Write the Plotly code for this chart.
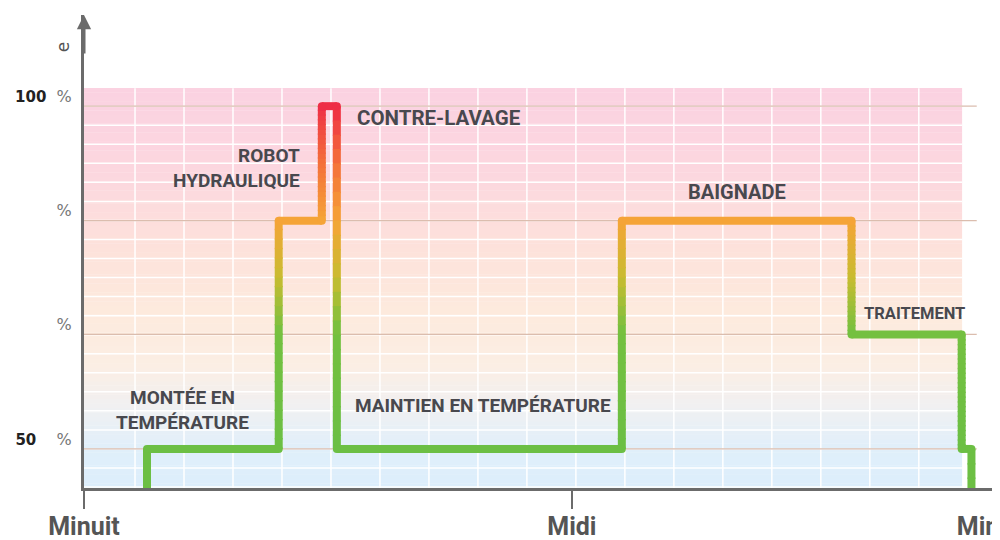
import plotly.graph_objects as go

# pump speed over the day: hour of each change and the speed (%) kept from then on
change_hours = [1.55, 4.79, 5.85, 6.22, 13.23, 18.88, 21.59, 21.83]
speed_levels = [50, 83.3, 100, 50, 83.3, 66.7, 50, 0]
start_level = 0

x_tick_vals = [0, 12, 22.35]
x_tick_labels = ["Minuit", "Midi", "Minuit"]
y_tick_vals = [50, 66.7, 83.3, 100]
y_tick_numbers = ["50", "", "", "100"]

phase_names = ["MONTÉE EN<br>TEMPÉRATURE", "ROBOT<br>HYDRAULIQUE", "CONTRE-LAVAGE",
               "MAINTIEN EN TEMPÉRATURE", "BAIGNADE", "TRAITEMENT"]
phase_hours = [2.43, 5.36, 6.66, 6.61, 16.06, 19.13]
phase_levels = [55.7, 91.0, 98.25, 56.4, 87.5, 69.7]
phase_anchor = ["center", "right", "left", "left", "center", "left"]
phase_size = [19, 19, 20.5, 19, 20, 16.5]

# axis extents / decoration
X_MAX = 22.36
Y_MIN, Y_MAX = 44.3, 113.3
BG_END, BG_TOP = 21.6, 102.6
LINE_W = 8
AXIS_COLOR = "#6b6b6b"
TEXT_COLOR = "#48484e"

# line colour follows the speed: green -> yellow -> orange -> red
line_stops = [(50, (108, 191, 68)), (67, (116, 192, 64)), (75, (200, 188, 48)),
              (83.3, (245, 164, 55)), (92, (244, 110, 58)), (100, (238, 46, 70))]
# background colour follows the height
bg_stops = [(44.3, (220, 238, 252)), (50, (224, 239, 250)), (56, (240, 240, 242)),
            (62, (251, 238, 228)), (70, (253, 234, 221)), (80, (253, 225, 219)),
            (90, (252, 215, 223)), (102.6, (251, 210, 225))]


def mix(stops, v):
    if v <= stops[0][0]:
        c = stops[0][1]
    elif v >= stops[-1][0]:
        c = stops[-1][1]
    else:
        for (v0, c0), (v1, c1) in zip(stops, stops[1:]):
            if v0 <= v <= v1:
                t = (v - v0) / (v1 - v0)
                c = tuple(a + (b - a) * t for a, b in zip(c0, c1))
                break
    return "rgb(%d,%d,%d)" % tuple(round(k) for k in c)


fig = go.Figure()

# step path
px, py = [change_hours[0]], [start_level]
for i, h in enumerate(change_hours):
    if i > 0:
        px.append(h)
        py.append(speed_levels[i - 1])
    px.append(h)
    py.append(speed_levels[i])

for (x0, y0), (x1, y1) in zip(zip(px, py), zip(px[1:], py[1:])):
    if y0 == y1:
        fig.add_trace(go.Scatter(x=[x0, x1], y=[y0, y1], mode="lines",
                                 line=dict(color=mix(line_stops, y0), width=LINE_W),
                                 hoverinfo="skip", showlegend=False))
    else:
        # vertical jump drawn in short overlapping pieces so the colour can change along it
        n = 24
        d = (y1 - y0) / n
        over = 0.2 if d > 0 else -0.2
        for k in range(n):
            a = y0 + d * k
            b = min(max(a + d + over, min(y0, y1)), max(y0, y1))
            fig.add_trace(go.Scatter(x=[x0, x1], y=[a, b], mode="lines",
                                     line=dict(color=mix(line_stops, a + d / 2), width=LINE_W),
                                     hoverinfo="skip", showlegend=False))

# rounded corners
fig.add_trace(go.Scatter(x=px[1:-1], y=py[1:-1], mode="markers",
                         marker=dict(size=LINE_W, color=[mix(line_stops, v) for v in py[1:-1]],
                                     line=dict(width=0)),
                         hoverinfo="skip", showlegend=False))

# background gradient and grid
shapes = []
nb = 90
for k in range(nb):
    a = Y_MIN + (BG_TOP - Y_MIN) * k / nb
    b = Y_MIN + (BG_TOP - Y_MIN) * (k + 1) / nb
    shapes.append(dict(type="rect", xref="x", yref="y", x0=0, x1=BG_END, y0=a, y1=b + 0.05,
                       fillcolor=mix(bg_stops, (a + b) / 2), line=dict(width=0), layer="below"))
step = (100 - 50) / 18
k = -2
while 50 + k * step < BG_TOP:
    y = 50 + k * step
    if y > Y_MIN:
        shapes.append(dict(type="line", xref="x", yref="y", x0=0, x1=BG_END, y0=y, y1=y,
                           line=dict(color="white", width=1.5), layer="below"))
    k += 1
x = 0.05 + 1.205
while x < BG_END:
    shapes.append(dict(type="line", xref="x", yref="y", x0=x, x1=x, y0=Y_MIN, y1=BG_TOP,
                       line=dict(color="white", width=1.5), layer="below"))
    x += 1.205
for v in y_tick_vals:
    shapes.append(dict(type="line", xref="x", yref="y", x0=0, x1=21.96, y0=v, y1=v,
                       line=dict(color="rgba(195,145,120,0.6)", width=1.2), layer="below"))

annotations = []
for name, h, v, anc, sz in zip(phase_names, phase_hours, phase_levels, phase_anchor, phase_size):
    annotations.append(dict(x=h, y=v, xref="x", yref="y", text=name, showarrow=False,
                            xanchor=anc, align=anc,
                            font=dict(family="Roboto", size=sz, color=TEXT_COLOR, weight="bold")))
# arrow head on the vertical axis
annotations.append(dict(x=0, y=Y_MAX, xref="x", yref="y", text="", showarrow=True,
                        ax=0, ay=40, arrowhead=2, arrowsize=0.95, arrowwidth=3,
                        arrowcolor=AXIS_COLOR))
# what is left of the axis title
annotations.append(dict(x=0, y=108.6, xref="paper", yref="y", xshift=-33, text="e",
                        textangle=-90, showarrow=False,
                        font=dict(family="DejaVu Sans", size=17, color="#555")))

y_tick_text = []
for n in y_tick_numbers:
    if n:
        pad = 2 + 2 * (3 - len(n))
        y_tick_text.append("<span style='font-size:15px;color:#222'><b>%s</b></span>%s%%"
                           % (n, "\u00a0" * pad))
    else:
        y_tick_text.append("%")

fig.update_xaxes(
    range=[0, X_MAX], showgrid=False, zeroline=False,
    showline=True, linewidth=3, linecolor=AXIS_COLOR,
    tickmode="array", tickvals=x_tick_vals, ticktext=x_tick_labels,
    ticks="outside", ticklen=18, tickwidth=2, tickcolor=AXIS_COLOR,
    ticklabelstandoff=-4, ticklabeloverflow="allow",
    tickfont=dict(family="Roboto", size=25, color="#555", weight="bold"),
    automargin=False
)
fig.update_yaxes(
    range=[Y_MIN, Y_MAX], showgrid=False, zeroline=False,
    showline=True, linewidth=3, linecolor=AXIS_COLOR,
    tickmode="array", tickvals=y_tick_vals, ticktext=y_tick_text,
    ticks="", ticklabelstandoff=6, ticklabelshift=-10,
    tickfont=dict(family="DejaVu Sans", size=16, color="#777"),
    automargin=False
)
# the page puts the figure 8px in from the top-left corner of the window
fig.update_layout(
    width=1000, height=540,
    margin=dict(l=76, r=15, t=7, b=60),
    paper_bgcolor="white", plot_bgcolor="white",
    shapes=shapes, annotations=annotations,
    showlegend=False
)

fig.write_html("out.html")
